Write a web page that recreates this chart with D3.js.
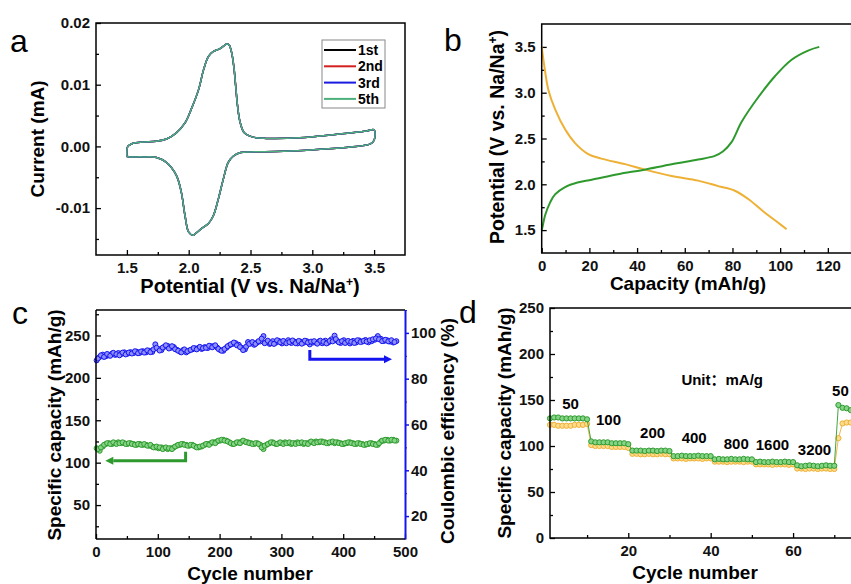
<!DOCTYPE html>
<html>
<head>
<meta charset="utf-8">
<script src="https://cdn.jsdelivr.net/npm/d3@7"></script>
<style>
  body { margin: 0; background: #fff; }
  svg { display: block; font-family: "Liberation Sans", Arial, "Noto Sans CJK SC", sans-serif; }
</style>
</head>
<body>
<svg id="fig" width="851" height="584"></svg>
<script>
// ---- Data ----
// (a) cyclic voltammetry, one closed loop: anodic sweep 1.5 -> 3.5 V, then back
const cvPotential = [1.50, 1.50, 1.505, 1.52, 1.55, 1.63, 1.74, 1.82, 1.90, 1.97, 2.02, 2.08, 2.12, 2.16, 2.20, 2.25, 2.285, 2.305, 2.325, 2.34, 2.355, 2.368, 2.38, 2.395, 2.415, 2.45, 2.52, 2.63, 2.90, 3.17, 3.44, 3.50,
  3.50, 3.47, 3.31, 3.04, 2.77, 2.50, 2.42, 2.36, 2.32, 2.28, 2.24, 2.20, 2.16, 2.105, 2.05, 2.035, 2.00, 1.97, 1.94, 1.90, 1.82, 1.74, 1.63, 1.53, 1.505, 1.50]
const cvCurrent = [-0.0016, -0.0008, -0.0001, 0.0002, 0.0005, 0.0007, 0.00085, 0.0012, 0.0022, 0.0038, 0.0060, 0.0092, 0.0124, 0.0146, 0.0154, 0.0158, 0.0163, 0.0166, 0.0165, 0.0158, 0.0144, 0.0124, 0.0098, 0.0066, 0.0040, 0.0022, 0.0015, 0.0013, 0.0014, 0.0019, 0.0025, 0.0027,
  0.0010, 0.0004, -0.0001, -0.0005, -0.0008, -0.0009, -0.0010, -0.0016, -0.0026, -0.0053, -0.0085, -0.0112, -0.0125, -0.0133, -0.0142, -0.0144, -0.0139, -0.0112, -0.0074, -0.0047, -0.0026, -0.0018, -0.0017, -0.0017, -0.00165, -0.0016]
const cvCycles = ["1st", "2nd", "3rd", "5th"]
const cvColors = ["#000000", "#d42020", "#1a1ae0", "#4cb07c"]

// (b) charge / discharge profiles
const chargeCap = [0, 0.3, 1.4, 3.5, 5.6, 9.8, 15, 21, 32, 43, 54.5, 65.6, 72.6, 76.1, 79.6, 83.8, 90.8, 97.8, 104.8, 111.7, 116.4]
const chargeV = [1.50, 1.53, 1.66, 1.80, 1.89, 1.97, 2.02, 2.05, 2.11, 2.16, 2.22, 2.27, 2.31, 2.36, 2.46, 2.68, 2.95, 3.18, 3.36, 3.46, 3.50]
const dischargeCap = [0, 1.1, 2.8, 5.6, 9.8, 14, 19.5, 25, 35, 43.3, 54.5, 65.6, 74, 81, 86.6, 93.6, 99.2, 102.7]
const dischargeV = [3.50, 3.29, 3.03, 2.82, 2.60, 2.45, 2.33, 2.28, 2.22, 2.16, 2.09, 2.04, 1.98, 1.93, 1.84, 1.69, 1.58, 1.51]

// (c) long cycling, read on two interleaved sets of cycles (1, 6, 11 ... and 3, 8, 13 ...)
const cycleC = d3.range(1, 487, 5)
const capacityC = [117, 114, 119, 122, 123, 122, 123, 124, 123, 123,
  122, 123, 122, 121, 122, 121, 121, 120, 119, 118,
  117, 118, 117, 116, 117, 118, 120, 121, 122, 121,
  120, 121, 119, 118, 119, 121, 122, 123, 124, 125,
  126, 127, 126, 124, 122, 123, 124, 125, 125, 124,
  123, 122, 123, 121, 116, 121, 123, 124, 122, 123,
  123, 124, 123, 122, 123, 124, 123, 122, 123, 124,
  124, 125, 124, 125, 124, 123, 124, 123, 124, 123,
  122, 123, 124, 123, 122, 123, 122, 121, 122, 123,
  122, 121, 125, 126, 127, 126, 127, 126]
const efficiencyC = [88, 89.5, 90.5, 89.8, 90.2, 91, 90.4, 91.2, 90.8, 91.5,
  90.9, 91.6, 91.2, 91.8, 91.3, 92, 91.5, 92.2, 91.7, 95,
  93, 92.5, 94, 94.3, 93.5, 93.8, 92.6, 91.8, 92.5, 91.5,
  92.3, 92.8, 93.2, 93.5, 93, 93.8, 93.4, 94.2, 94.3, 93.6,
  92.5, 92.2, 93.5, 94.6, 95.2, 95.5, 94.8, 93.5, 92.8, 96,
  95.4, 94.8, 95.8, 96.3, 98.6, 96, 95.2, 96.4, 95.7, 96.5,
  95.4, 96, 96.8, 95.6, 96.2, 95.4, 96.2, 95.7, 96.4, 95,
  95.8, 95.7, 96.3, 95.5, 96.6, 95.8, 97.2, 98.8, 96.4, 95.6,
  96.8, 95.9, 95.4, 96.5, 95.8, 96.7, 96.2, 96.9, 95.9, 96.4,
  97, 98.6, 97.4, 96.5, 96.8, 96.2, 95.8, 96.4]
const cycleC2 = d3.range(3, 487, 5)
const capacityC2 = [116, 118, 121, 123, 122, 124, 122, 123, 124, 122,
  123, 122, 121, 122, 121, 122, 120, 121, 118, 119,
  118, 116, 118, 117, 116, 119, 121, 122, 121, 120,
  121, 120, 118, 119, 120, 122, 121, 124, 123, 126,
  127, 126, 125, 123, 122, 124, 123, 126, 124, 123,
  122, 123, 122, 118, 120, 122, 124, 123, 122, 124,
  122, 123, 124, 123, 122, 123, 124, 123, 122, 125,
  123, 124, 125, 124, 123, 124, 125, 124, 123, 122,
  123, 124, 123, 122, 123, 122, 121, 122, 123, 122,
  121, 123, 126, 127, 126, 127, 126]
const efficiencyC2 = [88.8, 90.2, 89.5, 90.8, 90, 91.3, 90.7, 90.2, 91.4, 90.6,
  91.4, 91, 92, 91.1, 91.9, 91.4, 92.4, 91.6, 92.8, 93.5,
  92.3, 93.6, 94.6, 93.2, 94.2, 92.9, 92.2, 91.5, 92.8, 92,
  92.6, 93.4, 92.8, 93.9, 93.3, 93.5, 94.4, 93.7, 94.6, 93,
  92.2, 93, 94.2, 95, 95.8, 94.6, 93.8, 92.5, 94, 95.2,
  96, 95.2, 96.4, 97.5, 95.5, 96.6, 95.5, 95.2, 96.8, 95.9,
  96.5, 95.5, 96, 96.7, 95.5, 96.5, 95.3, 96.6, 95.8, 96.2,
  96.4, 95.3, 96.6, 96.1, 95.4, 96.5, 96.3, 97.3, 95.9, 96.4,
  95.6, 96.5, 96.1, 95.6, 96.8, 96, 96.5, 96.2, 96.8, 97.2,
  97.6, 97.2, 96.4, 97, 96.3, 96.8, 96]

// (d) rate capability
const cycleD = d3.range(1, 76)
const chargeD = [130, 131, 131, 130, 130, 130, 130, 130, 130, 129,
  105, 104, 104, 104, 104, 103, 103, 103, 103, 102,
  95, 95, 95, 94.5, 95, 95, 94.5, 95, 95, 94.5,
  89, 89, 89.5, 89, 89, 89, 89.5, 89, 89, 89,
  85.5, 86, 85.5, 85.5, 86, 85.5, 85.5, 86, 85.5, 85.5,
  82.5, 83, 82.5, 82.5, 83, 82.5, 82.5, 83, 82.5, 82.5,
  79, 78, 78.5, 79, 78.5, 78, 78.5, 79, 78.5, 78.5,
  144.5, 141.5, 141, 139, 138]
const dischargeD = [123, 123, 122, 122, 122, 122, 123, 123, 123, 124,
  101, 100, 100, 100, 100, 99, 99, 99, 99, 98,
  91.5, 91.5, 91, 91, 91.5, 91, 91, 91.5, 91, 91,
  86.5, 86.5, 86.5, 86, 86.5, 86.5, 86.5, 86, 86.5, 86.5,
  83, 83, 83, 82.5, 83, 83, 83, 82.5, 83, 83,
  80, 80, 80, 80, 79.5, 80, 80, 80, 79.5, 80,
  75.5, 75.5, 75, 75.5, 75.5, 75, 75.5, 75.5, 75, 75,
  108.5, 124.5, 125.5, 125.5, 125.5]
const rateLabels = ["50", "100", "200", "400", "800", "1600", "3200", "50"]

// ---- Style ----
const green = "#2e9a2e", greenLight = "#86d486"
const orange = "#eeb035", orangeLight = "#ffdc8c"
const blue = "#1414f0", blueLight = "#8f8fff"
const tickFont = 15
const titleFont = 19

const svg = d3.select("#fig")

function panel(x0, y0) {
  return svg.append("g").attr("transform", `translate(${x0},${y0})`)
}

// Inward major + minor ticks on the bottom and left edges
function addAxes(g, x, y, h, o) {
  g.append("g").attr("class", "axis").attr("transform", `translate(0,${h})`)
    .call(d3.axisBottom(x).tickValues(o.xTicks).tickFormat(o.xFmt).tickSizeInner(-5).tickSizeOuter(0).tickPadding(7))
  g.append("g").attr("class", "axis").attr("transform", `translate(0,${h})`)
    .call(d3.axisBottom(x).tickValues(o.xMinor).tickFormat("").tickSizeInner(-3).tickSizeOuter(0))
  g.append("g").attr("class", "axis")
    .call(d3.axisLeft(y).tickValues(o.yTicks).tickFormat(o.yFmt).tickSizeInner(-5).tickSizeOuter(0).tickPadding(6))
  g.append("g").attr("class", "axis")
    .call(d3.axisLeft(y).tickValues(o.yMinor).tickFormat("").tickSizeInner(-3).tickSizeOuter(0))
  g.selectAll(".axis .domain").remove()
  g.selectAll(".axis").attr("font-size", tickFont).attr("font-weight", "bold").attr("font-family", null)
  g.selectAll(".axis line").attr("stroke", "#000").attr("stroke-width", 1.3)
  g.selectAll(".axis text").attr("fill", "#111")
}

function frame(g, w, h) {
  g.append("rect").attr("width", w).attr("height", h)
    .attr("fill", "none").attr("stroke", "#000").attr("stroke-width", 1.5)
}

function letter(txt, x, y) {
  svg.append("text").attr("x", x).attr("y", y).attr("font-size", 32).text(txt)
}

function title(x, y, parts, rotate, size) {
  const t = svg.append("text")
    .attr("font-size", size || titleFont).attr("font-weight", "bold").attr("text-anchor", "middle")
  if (rotate) t.attr("transform", `translate(${x},${y}) rotate(-90)`)
  else t.attr("x", x).attr("y", y)
  parts.forEach(function(p) {
    const s = t.append("tspan").text(p.text)
    if (p.sup) s.attr("dy", -7).attr("font-size", 12)
    if (p.down) s.attr("dy", 7)
  })
}
const potentialTitle = [{text: "Potential (V vs. Na/Na"}, {text: "+", sup: true}, {text: ")", down: true}]

// ---- (a) CV ----
function drawCV() {
  const w = 309, h = 232
  const g = panel(96, 23)
  const x = d3.scaleLinear().domain([1.25, 3.75]).range([0, w])
  const y = d3.scaleLinear().domain([-0.0176, 0.02]).range([h, 0])
  addAxes(g, x, y, h, {
    xTicks: [1.5, 2.0, 2.5, 3.0, 3.5], xMinor: [1.75, 2.25, 2.75, 3.25], xFmt: d => d.toFixed(1),
    yTicks: [-0.01, 0, 0.01, 0.02], yMinor: [-0.015, -0.005, 0.005, 0.015], yFmt: d => d.toFixed(2)
  })
  const line = d3.line()
    .x(i => x(cvPotential[i]))
    .y(i => y(cvCurrent[i]))
    .curve(d3.curveCatmullRom.alpha(0.5))
  const idx = d3.range(cvPotential.length)
  cvColors.forEach(function(c) {
    g.append("path").attr("d", line(idx)).attr("fill", "none")
      .attr("stroke", c).attr("stroke-width", 1.5)
  })
  frame(g, w, h)

  // Legend
  const lg = svg.append("g").attr("transform", "translate(322,40)")
  lg.append("rect").attr("width", 63).attr("height", 68)
    .attr("fill", "#fff").attr("stroke", "#888").attr("stroke-width", 1)
  cvCycles.forEach(function(name, i) {
    const yy = 10 + i * 16.3
    lg.append("line").attr("x1", 2).attr("x2", 34).attr("y1", yy).attr("y2", yy)
      .attr("stroke", cvColors[i]).attr("stroke-width", 2)
    lg.append("text").attr("x", 36).attr("y", yy).attr("dy", "0.35em")
      .attr("font-size", 14).attr("font-weight", "bold").text(name)
  })

  letter("a", 10, 52)
  title(44, 139, [{text: "Current (mA)"}], true)
  title(250, 293, potentialTitle, false, 20)
}

// ---- (b) charge/discharge ----
function drawProfiles() {
  const w = 310, h = 229
  const g = panel(541.7, 24)
  const x = d3.scaleLinear().domain([0, 130]).range([0, w])
  const y = d3.scaleLinear().domain([1.25, 3.75]).range([h, 0])
  addAxes(g, x, y, h, {
    xTicks: [0, 20, 40, 60, 80, 100, 120], xMinor: [10, 30, 50, 70, 90, 110], xFmt: d3.format("d"),
    yTicks: [1.5, 2.0, 2.5, 3.0, 3.5], yMinor: [1.75, 2.25, 2.75, 3.25], yFmt: d => d.toFixed(1)
  })
  const mk = function(xs, ys) {
    return d3.line().x(i => x(xs[i])).y(i => y(ys[i])).curve(d3.curveCatmullRom.alpha(0.5))(d3.range(xs.length))
  }
  g.append("path").attr("d", mk(dischargeCap, dischargeV)).attr("fill", "none")
    .attr("stroke", orange).attr("stroke-width", 2)
  g.append("path").attr("d", mk(chargeCap, chargeV)).attr("fill", "none")
    .attr("stroke", green).attr("stroke-width", 2)
  frame(g, w, h)

  letter("b", 444, 51)
  title(504, 137, potentialTitle, true, 19.5)
  title(688, 290, [{text: "Capacity (mAh/g)"}], false)
}

// ---- (c) long cycling ----
function drawCycling() {
  const w = 309, h = 229
  const g = panel(96, 310)
  const x = d3.scaleLinear().domain([0, 500]).range([0, w])
  const y = d3.scaleLinear().domain([10, 280]).range([h, 0])
  const yr = d3.scaleLinear().domain([10, 110]).range([h, 0])
  addAxes(g, x, y, h, {
    xTicks: [0, 100, 200, 300, 400, 500], xMinor: [50, 150, 250, 350, 450], xFmt: d3.format("d"),
    yTicks: [50, 100, 150, 200, 250], yMinor: [25, 75, 125, 175, 225, 275], yFmt: d3.format("d")
  })

  // Right axis in blue
  const ra = g.append("g").attr("transform", `translate(${w},0)`)
    .call(d3.axisRight(yr).tickValues([20, 40, 60, 80, 100]).tickSizeInner(4).tickSizeOuter(0).tickPadding(2))
  g.append("g").attr("transform", `translate(${w},0)`)
    .call(d3.axisRight(yr).tickValues([30, 50, 70, 90, 110]).tickFormat("").tickSizeInner(2).tickSizeOuter(0))
    .selectAll("line,.domain").attr("stroke", blue)
  ra.attr("font-size", tickFont).attr("font-weight", "bold").attr("font-family", null)
  ra.select(".domain").attr("stroke", blue).attr("stroke-width", 2)
  ra.selectAll("line").attr("stroke", blue).attr("stroke-width", 1.5)
  ra.selectAll("text").attr("fill", "#111")

  const dots = function(cycles, vals, scale, color, light) {
    g.selectAll(null).data(cycles).enter().append("circle")
      .attr("cx", d => x(d)).attr("cy", (d, i) => scale(vals[i])).attr("r", 2.5)
      .attr("fill", light).attr("stroke", color).attr("stroke-width", 1)
  }
  dots(cycleC, efficiencyC, yr, blue, blueLight)
  dots(cycleC2, efficiencyC2, yr, blue, blueLight)
  dots(cycleC, capacityC, y, green, greenLight)
  dots(cycleC2, capacityC2, y, green, greenLight)

  // Axis-pointer arrows
  const arrow = function(pts, color, dir) {
    g.append("path").attr("d", d3.line()(pts)).attr("fill", "none")
      .attr("stroke", color).attr("stroke-width", 3)
    const e = pts[pts.length - 1]
    g.append("path").attr("fill", color)
      .attr("d", `M${e[0] + dir * 8},${e[1]}L${e[0]},${e[1] - 4}L${e[0]},${e[1] + 4}Z`)
  }
  arrow([[x(346), yr(92.5)], [x(346), yr(88.5)], [x(466), yr(88.5)]], blue, 1)
  arrow([[x(145), y(113)], [x(145), y(102.3)], [x(28), y(102.3)]], green, -1)

  g.append("line").attr("x1", 0).attr("x2", 0).attr("y1", 0).attr("y2", h).attr("stroke", "#000").attr("stroke-width", 1.5)
  g.append("line").attr("x1", 0).attr("x2", w).attr("y1", h).attr("y2", h).attr("stroke", "#000").attr("stroke-width", 1.5)
  g.append("line").attr("x1", 0).attr("x2", w).attr("y1", 0).attr("y2", 0).attr("stroke", "#000").attr("stroke-width", 1.5)

  letter("c", 12, 324)
  title(61, 425, [{text: "Specific capacity (mAh/g)"}], true)
  title(454, 431, [{text: "Coulombic efficiency (%)"}], true)
  title(250, 580, [{text: "Cycle number"}], false)
}

// ---- (d) rate capability ----
function drawRate() {
  const w = 309, h = 230
  const g = panel(550, 308)
  const x = d3.scaleLinear().domain([1, 76]).range([0, w])
  const y = d3.scaleLinear().domain([0, 250]).range([h, 0])
  addAxes(g, x, y, h, {
    xTicks: [20, 40, 60], xMinor: [10, 30, 50, 70], xFmt: d3.format("d"),
    yTicks: [0, 50, 100, 150, 200, 250], yMinor: [25, 75, 125, 175, 225], yFmt: d3.format("d")
  })
  const series = [
    {vals: dischargeD, color: orange, light: orangeLight},
    {vals: chargeD, color: green, light: greenLight}
  ]
  series.forEach(function(s) {
    g.append("path")
      .attr("d", d3.line().x(d => x(d)).y((d, i) => y(s.vals[i]))(cycleD))
      .attr("fill", "none").attr("stroke", s.color).attr("stroke-width", 0.9)
    g.selectAll(null).data(cycleD).enter().append("circle")
      .attr("cx", d => x(d)).attr("cy", (d, i) => y(s.vals[i])).attr("r", 2.6)
      .attr("fill", s.light).attr("stroke", s.color).attr("stroke-width", 1)
  })

  // Current-density labels (cycle, capacity) for each step
  const labelAt = [[6, 146], [15.2, 128], [25.9, 114], [36, 109], [46.2, 102], [55, 101], [65.2, 96], [71.5, 160]]
  rateLabels.forEach(function(t, i) {
    g.append("text").attr("x", x(labelAt[i][0])).attr("y", y(labelAt[i][1]))
      .attr("dy", "0.35em").attr("text-anchor", "middle")
      .attr("font-size", 15).attr("font-weight", "bold").text(t)
  })
  g.append("text").attr("x", x(42.8)).attr("y", y(171.5)).attr("dy", "0.35em")
    .attr("text-anchor", "middle").attr("font-size", 15).attr("font-weight", "bold")
    .text("Unit：mA/g")
  frame(g, w, h)

  letter("d", 459, 323)
  title(511, 423, [{text: "Specific capacity (mAh/g)"}], true)
  title(695, 578.5, [{text: "Cycle number"}], false)
}

drawCV()
drawProfiles()
drawCycling()
drawRate()
</script>
</body>
</html>
